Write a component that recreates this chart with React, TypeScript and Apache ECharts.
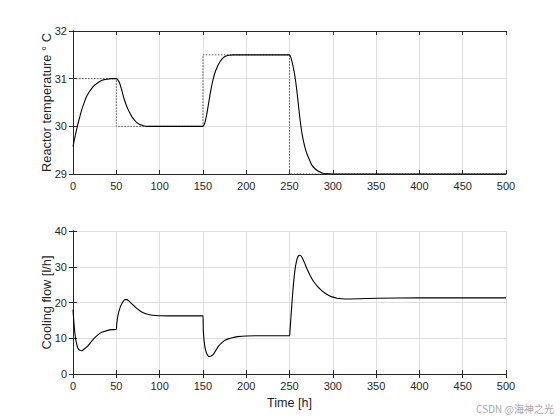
import React, { useEffect, useRef } from "react";
import * as echarts from "echarts";

// Reactor temperature (top panel)
const tempTime = [0, 2, 4, 6, 8, 10, 12, 15, 18, 21, 24, 27, 30, 33, 36, 40, 44, 48, 50, 52, 54, 56, 58, 60, 62, 64, 66, 68, 70, 73, 76, 80, 85, 90, 100, 120, 140, 148, 150, 152, 154, 156, 158, 160, 162, 164, 166, 168, 170, 173, 176, 180, 185, 190, 200, 220, 240, 248, 250, 252, 254, 256, 258, 260, 262, 264, 266, 268, 270, 273, 276, 280, 285, 290, 300, 350, 400, 450, 500];
const tempValues = [29.58, 29.75, 29.92, 30.07, 30.21, 30.34, 30.45, 30.6, 30.7, 30.78, 30.85, 30.89, 30.93, 30.96, 30.98, 30.99, 31.0, 31.0, 31.0, 30.97, 30.9, 30.78, 30.64, 30.52, 30.42, 30.34, 30.27, 30.2, 30.15, 30.09, 30.05, 30.02, 30.0, 30.0, 30.0, 30.0, 30.0, 30.0, 30.0, 30.06, 30.21, 30.42, 30.64, 30.84, 31.0, 31.13, 31.22, 31.3, 31.36, 31.43, 31.47, 31.49, 31.5, 31.5, 31.5, 31.5, 31.5, 31.5, 31.5, 31.42, 31.27, 31.08, 30.82, 30.5, 30.17, 29.9, 29.7, 29.55, 29.43, 29.3, 29.18, 29.1, 29.04, 29.01, 29.0, 29.0, 29.0, 29.0, 29.0];

// Temperature setpoint (dotted)
const setpointTime = [0, 50, 50, 150, 150, 250, 250, 500];
const setpointValues = [31, 31, 30, 30, 31.5, 31.5, 29, 29];

// Cooling flow (bottom panel)
const flowTime = [0, 1, 2, 3, 4, 5, 6, 8, 10, 12, 14, 17, 20, 24, 28, 32, 36, 40, 45, 50, 50.5, 52, 54, 56, 58, 60, 62, 65, 68, 72, 76, 80, 85, 90, 95, 100, 110, 130, 150, 150.5, 152, 154, 156, 158, 160, 162, 165, 168, 172, 176, 180, 185, 190, 200, 220, 250, 250.5, 252, 254, 256, 258, 260, 262, 264, 267, 270, 274, 278, 282, 286, 290, 295, 300, 305, 310, 320, 330, 350, 400, 450, 500];
const flowValues = [18, 14.5, 11.8, 9.9, 8.6, 7.7, 7.1, 6.6, 6.5, 6.8, 7.2, 7.8, 8.7, 9.9, 10.8, 11.5, 11.9, 12.2, 12.4, 12.5, 14, 16.5, 18.3, 19.5, 20.3, 20.8, 20.8, 20.3, 19.6, 18.7, 17.9, 17.3, 16.8, 16.5, 16.35, 16.3, 16.25, 16.25, 16.25, 12, 8, 6, 5.1, 4.9, 5.1, 5.5, 6.6, 7.8, 8.8, 9.5, 9.9, 10.2, 10.45, 10.65, 10.7, 10.7, 12, 17, 23.5, 28.5, 31.5, 32.9, 33.2, 32.8, 31.3, 29.5, 27.5, 25.8, 24.6, 23.6, 22.8, 22.0, 21.5, 21.2, 21.05, 21.0, 21.05, 21.2, 21.3, 21.3, 21.3];

const timeTicks = { min: 0, max: 500, interval: 50 };
const tempTicks = { min: 29, max: 32, interval: 1 };
const flowTicks = { min: 0, max: 40, interval: 10 };

const zip = (xs: number[], ys: number[]) => xs.map((x, i) => [x, ys[i]]);

const FONT = "Liberation Sans, Arial, sans-serif";
const DARK = "#262626";
const GRID = "#dedede";

export default function App() {
  const ref = useRef<HTMLDivElement>(null);
  useEffect(() => {
    if (!ref.current) return;
    const chart = echarts.init(ref.current, undefined, { renderer: "svg" });
    const label = { color: DARK, fontFamily: FONT, fontSize: 11 };
    const line = { show: true, lineStyle: { color: DARK, width: 1 } };
    const tick = { show: true, inside: true, length: 4, lineStyle: { color: DARK, width: 1 } };
    const split = { show: true, lineStyle: { color: GRID, width: 1 } };
    const mainX = (gridIndex: number, name: string) => ({
      type: "value", gridIndex, ...timeTicks, position: "bottom",
      axisLine: line, axisTick: tick, splitLine: split,
      axisLabel: { ...label, margin: 6 },
      name, nameLocation: "middle", nameGap: 22, nameMoveOverlap: false,
      nameTextStyle: { ...label, fontSize: 12.6 },
    });
    const boxX = (gridIndex: number) => ({
      type: "value", gridIndex, ...timeTicks, position: "top",
      axisLine: line, axisTick: tick, splitLine: { show: false }, axisLabel: { show: false },
    });
    const mainY = (gridIndex: number, ticks: any, name: string) => ({
      type: "value", gridIndex, ...ticks, position: "left",
      axisLine: line, axisTick: tick, splitLine: split,
      axisLabel: { ...label, margin: 6 },
      name, nameLocation: "middle", nameGap: 20, nameRotate: 90, nameMoveOverlap: false,
      nameTextStyle: { ...label, fontSize: 12.8 },
    });
    const boxY = (gridIndex: number, ticks: any) => ({
      type: "value", gridIndex, ...ticks, position: "right",
      axisLine: line, axisTick: tick, splitLine: { show: false }, axisLabel: { show: false },
    });
    chart.setOption({
      animation: false,
      backgroundColor: "#ffffff",
      grid: [
        { left: 73, right: 54, top: 31, height: 143 },
        { left: 73, right: 54, top: 231, height: 143 },
      ],
      xAxis: [mainX(0, ""), boxX(0), mainX(1, "Time [h]"), boxX(1)],
      yAxis: [
        mainY(0, tempTicks, "Reactor temperature ° C"),
        boxY(0, tempTicks),
        mainY(1, flowTicks, "Cooling flow [l/h]"),
        boxY(1, flowTicks),
      ],
      series: [
        {
          type: "line", xAxisIndex: 0, yAxisIndex: 0, data: zip(setpointTime, setpointValues),
          showSymbol: false, symbol: "none", silent: true,
          lineStyle: { color: "#555555", width: 1, type: [1.5, 1.5] },
        },
        {
          type: "line", xAxisIndex: 0, yAxisIndex: 0, data: zip(tempTime, tempValues),
          showSymbol: false, symbol: "none", smooth: 0.3, silent: true,
          lineStyle: { color: "#000000", width: 1.1 },
        },
        {
          type: "line", xAxisIndex: 2, yAxisIndex: 2, data: zip(flowTime, flowValues),
          showSymbol: false, symbol: "none", smooth: 0.3, silent: true,
          lineStyle: { color: "#000000", width: 1.1 },
        },
      ],
      graphic: [
        {
          type: "text", right: 6, top: 403,
          style: { text: "CSDN @海神之光", fill: "#a8a8a8", fontSize: 10, fontFamily: "Noto Sans CJK SC, Liberation Sans, sans-serif" },
        },
      ],
    });
    return () => chart.dispose();
  }, []);
  return <div ref={ref} style={{ width: 560, height: 420, position: "absolute", left: 0, top: 0 }} />;
}
